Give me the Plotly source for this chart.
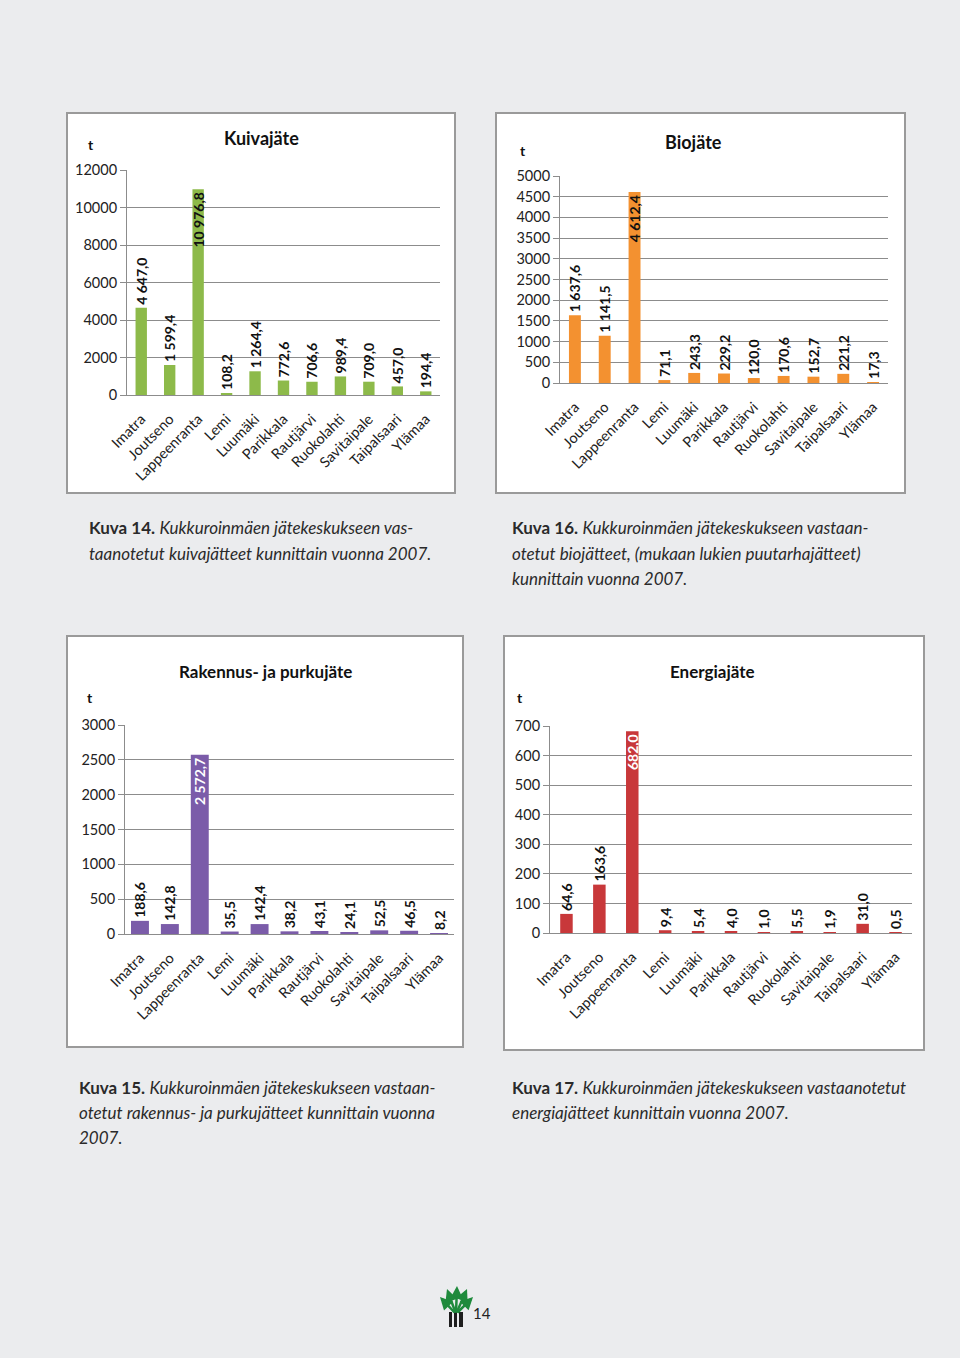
import plotly.graph_objects as go

W, H = 960, 1358

municipalities = ["Imatra", "Joutseno", "Lappeenranta", "Lemi", "Luumäki", "Parikkala",
                  "Rautjärvi", "Ruokolahti", "Savitaipale", "Taipalsaari", "Ylämaa"]

kuivajate = [4647.0, 1599.4, 10976.8, 108.2, 1264.4, 772.6, 706.6, 989.4, 709.0, 457.0, 194.4]
biojate = [1637.6, 1141.5, 4612.4, 71.1, 243.3, 229.2, 120.0, 170.6, 152.7, 221.2, 17.3]
rakennus = [188.6, 142.8, 2572.7, 35.5, 142.4, 38.2, 43.1, 24.1, 52.5, 46.5, 8.2]
energia = [64.6, 163.6, 682.0, 9.4, 5.4, 4.0, 1.0, 5.5, 1.9, 31.0, 0.5]

titles = ["Kuivajäte", "Biojäte", "Rakennus- ja purkujäte", "Energiajäte"]
y_max = [12000, 5000, 3000, 700]
y_step = [2000, 500, 500, 100]

FONT = "Lato"
BG = "#ebecee"


def fmt(v):
    s = f"{v:,.1f}"
    return s.replace(",", " ").replace(".", ",")


def px_x(x):
    return x / W


def px_y(y):
    return 1 - y / H


fig = go.Figure()

specs = [
    dict(box=(67, 113, 455, 493), plot=(127, 170, 440, 395), color="#8dba4a", width=0.4,
         inner_color="#111111", title_xy=(261, 138), t_xy=(91, 145), series=kuivajate, tsize=18),
    dict(box=(496, 113, 905, 493), plot=(560, 176, 888, 383), color="#f39130", width=0.4,
         inner_color="#111111", title_xy=(693, 142), t_xy=(523, 150), series=biojate, tsize=18),
    dict(box=(67, 636, 463, 1047), plot=(125, 725, 454, 934), color="#7b5ca9", width=0.6,
         inner_color="#ffffff", title_xy=(265, 671), t_xy=(90, 698), series=rakennus, tsize=17),
    dict(box=(504, 636, 924, 1050), plot=(550, 726, 912, 933), color="#c8383a", width=0.38,
         inner_color="#ffffff", title_xy=(712, 671), t_xy=(520, 698), series=energia, tsize=17),
]

shapes = []
annotations = []

for i, sp in enumerate(specs):
    n = i + 1
    xa = "x" if n == 1 else f"x{n}"
    ya = "y" if n == 1 else f"y{n}"
    bx0, by0, bx1, by1 = sp["box"]
    shapes.append(dict(type="rect", xref="paper", yref="paper",
                       x0=px_x(bx0), x1=px_x(bx1), y0=px_y(by1), y1=px_y(by0),
                       fillcolor="white", line=dict(color="#9a9a9a", width=2), layer="below"))
    vals = sp["series"]
    mx = max(vals)
    positions = ["inside" if v == mx else "outside" for v in vals]
    colors = [sp["inner_color"] if v == mx else "#111111" for v in vals]
    fig.add_trace(go.Bar(
        x=municipalities, y=vals, xaxis=xa, yaxis=ya,
        marker=dict(color=sp["color"], line=dict(width=0)),
        width=sp["width"],
        text=[fmt(v) for v in vals], textposition=positions, textangle=-90,
        insidetextanchor="end",
        textfont=dict(family=FONT, size=14, color=colors, weight="bold"),
        cliponaxis=False, showlegend=False, hoverinfo="skip",
    ))
    px0, py0, px1, py1 = sp["plot"]
    xk = "xaxis" if n == 1 else f"xaxis{n}"
    yk = "yaxis" if n == 1 else f"yaxis{n}"
    fig.layout[xk] = dict(domain=[px_x(px0), px_x(px1)], anchor=ya, tickangle=-45,
                          automargin=False, showgrid=False, showline=True,
                          linecolor="#8c8c8c", linewidth=1, ticks="", ticklabelstandoff=9,
                          tickfont=dict(family=FONT, size=14.5, color="#222222"),
                          fixedrange=True)
    fig.layout[yk] = dict(domain=[px_y(py1), px_y(py0)], anchor=xa, range=[0, y_max[i]],
                          automargin=False, dtick=y_step[i], tick0=0, tickformat="d",
                          showgrid=True, gridcolor="#8c8c8c", gridwidth=1,
                          showline=True, linecolor="#8c8c8c", linewidth=1, ticks="outside",
                          ticklen=6, tickcolor="#8c8c8c", zeroline=False,
                          tickfont=dict(family=FONT, size=14.5, color="#222222"), fixedrange=True)
    tx, ty = sp["title_xy"]
    annotations.append(dict(xref="paper", yref="paper", x=px_x(tx), y=px_y(ty), text=titles[i],
                            showarrow=False, xanchor="center", yanchor="middle",
                            font=dict(family=FONT, size=sp["tsize"], color="#111111", weight="bold")))
    tx, ty = sp["t_xy"]
    annotations.append(dict(xref="paper", yref="paper", x=px_x(tx), y=px_y(ty), text="t",
                            showarrow=False, xanchor="center", yanchor="middle",
                            font=dict(family=FONT, size=14, color="#111111", weight="bold")))

captions = [
    (87, [528, 553], ["<b>Kuva 14.</b> <i>Kukkuroinmäen jätekeskukseen vas-</i>",
                      "<i>taanotetut kuivajätteet kunnittain vuonna 2007.</i>"]),
    (510, [528, 553, 578], ["<b>Kuva 16.</b> <i>Kukkuroinmäen jätekeskukseen vastaan-</i>",
                            "<i>otetut biojätteet, (mukaan lukien puutarhajätteet)</i>",
                            "<i>kunnittain vuonna 2007.</i>"]),
    (77, [1087, 1112, 1137], ["<b>Kuva 15.</b> <i>Kukkuroinmäen jätekeskukseen vastaan-</i>",
                              "<i>otetut rakennus- ja purkujätteet kunnittain vuonna</i>",
                              "<i>2007.</i>"]),
    (510, [1087, 1112], ["<b>Kuva 17.</b> <i>Kukkuroinmäen jätekeskukseen vastaanotetut</i>",
                         "<i>energiajätteet kunnittain vuonna 2007.</i>"]),
]
for cx, ys, lines in captions:
    for yy, line in zip(ys, lines):
        annotations.append(dict(xref="paper", yref="paper", x=px_x(cx), y=px_y(yy), text=line,
                                showarrow=False, xanchor="left", yanchor="middle",
                                font=dict(family=FONT, size=17, color="#2a2a2a")))

annotations.append(dict(xref="paper", yref="paper", x=px_x(471), y=px_y(1313), text="14",
                        showarrow=False, xanchor="left", yanchor="middle",
                        font=dict(family=FONT, size=15, color="#222222")))

# logo: dark trunk and green branches with arrowheads
for (x0, x1) in [(449, 452), (454, 457), (459, 463)]:
    shapes.append(dict(type="rect", xref="paper", yref="paper", x0=px_x(x0), x1=px_x(x1),
                       y0=px_y(1327), y1=px_y(1312), fillcolor="#1e1e1e", line=dict(width=0)))
branch_tips = [(457, 1286), (440, 1297), (447, 1289), (473, 1297), (467, 1289)]
for tx, ty in branch_tips:
    annotations.append(dict(xref="paper", yref="paper", x=px_x(tx), y=px_y(ty), text="",
                            showarrow=True, axref="pixel", ayref="pixel",
                            ax=(456 - tx), ay=(1314 - ty), arrowhead=2, arrowsize=1,
                            arrowwidth=2.5, arrowcolor="#1f8a3c"))

fig.update_layout(
    template="none",
    width=W, height=H, margin=dict(l=0, r=0, t=0, b=0, autoexpand=False),
    paper_bgcolor=BG, plot_bgcolor="rgba(0,0,0,0)",
    shapes=shapes, annotations=annotations, bargap=0.5,
    uniformtext=dict(minsize=14, mode="show"),
    font=dict(family=FONT),
)

fig.write_html("out.html", config={"displayModeBar": False},
               post_script="document.body.style.margin='0';document.body.style.background='%s';" % BG)
